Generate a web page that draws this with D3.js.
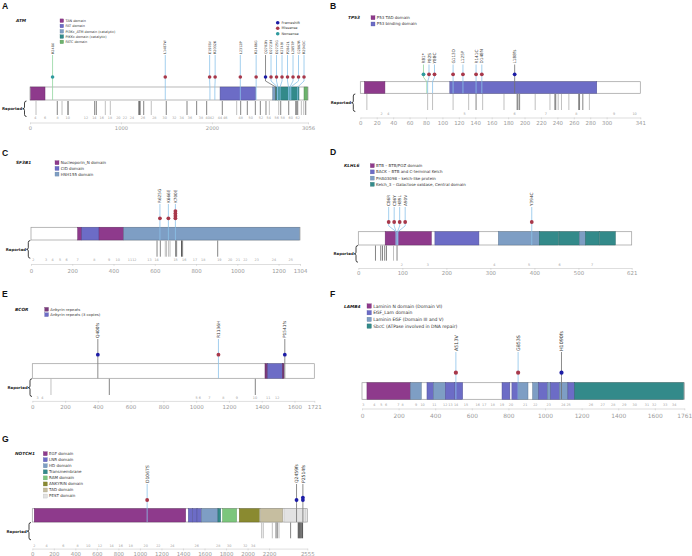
<!DOCTYPE html>
<html><head><meta charset="utf-8">
<script src="https://cdn.jsdelivr.net/npm/d3@7"></script>
<style>body{margin:0;background:#fff}svg{display:block}</style>
</head><body><svg id="c" width="692" height="556"></svg>
<script>
// ================= DATA =================
// ---- A: ATM ----
const atmLength = 3056;
const atmDomainNames = ["TAN domain","FAT domain","PI3Kc_ATM domain (catalytic)","PIKKc domain (catalytic)","FATC domain"];
const atmDomainStart = [8, 2089, 2668, 2697, 3012];
const atmDomainEnd   = [165, 2481, 2697, 2957, 3050];
const atmDomainType  = [0, 1, 2, 3, 4];
const atmMutLabels = ["R248X","L1487W","E1978V","R2032K","L2312P","R2486G","Q2702fs","D2721N","D2725G","K2749I","P2842L","L2857P","G2867R","R2943C"];
const atmMutPos    = [248,1487,1978,2032,2312,2486,2702,2721,2725,2749,2842,2857,2867,2943];
const atmMutType   = ["nonsense","missense","missense","missense","missense","missense","frameshift","missense","missense","missense","missense","missense","missense","missense"];
const atmMutCount  = [1,1,1,1,1,1,1,1,1,1,1,1,1,1];
const atmReportedPos = [66,300,352,418,711,729,828,883,1198,1209,1250,1333,1498,1726,1832,1942,2114,2272,2316,2389,2477,2532,2594,2631,2734,2756,2844,2921,2932,2943,2983,3009,3031];
const atmReportedCount = [1,2,1,3,2,2,1,1,3,3,2,1,2,2,2,2,2,1,2,2,2,2,2,1,1,2,2,2,2,2,1,1,2];
const atmExonNum = [4,6,8,10,12,14,16,18,20,22,24,26,28,30,32,34,36,38,40,42,44,46,48,50,52,54,56,58,60,62];
const atmExonPos = [59,165,304,414,616,707,788,879,971,1044,1121,1242,1367,1480,1587,1667,1759,1880,1953,2001,2089,2147,2316,2426,2539,2624,2712,2778,2866,2943];
const atmTicks = [0,1000,2000,3056];

// ---- B: TP53 ----
const tp53Length = 341;
const tp53DomainNames = ["P53 TAD domain","P53 binding domain"];
const tp53DomainStart = [5, 109];
const tp53DomainEnd   = [30, 288];
const tp53DomainType  = [0, 1];
const tp53MutLabels = ["R81*","P82S","Y88C","G113D","L125P","R141C","D148N","L188fs"];
const tp53MutPos    = [81,82,88,113,125,141,148,188];
const tp53MutType   = ["nonsense","missense","missense","missense","missense","missense","missense","frameshift"];
const tp53MutCount  = [1,1,1,1,1,1,1,1];
const tp53ReportedPos = [8,82,88,113,132,141,149,175,191,192,194,213,231,237,238,241,245,254,266,267,271,279];
const tp53ReportedCount = [1,1,1,1,1,2,1,1,2,2,2,1,1,2,2,1,1,1,2,2,2,1];
const tp53ExonNum = [2,4,5,6,7,8,9,10];
const tp53ExonPos = [26,34,127,188,226,263,309,334];
const tp53Ticks = [0,20,40,60,80,100,120,140,160,180,200,220,240,260,280,300,341];

// ---- C: SF3B1 ----
const sf3b1Length = 1304;
const sf3b1DomainNames = ["Nucleoporin_N domain","CID domain","HSH155 domain"];
const sf3b1DomainStart = [226, 246, 330, 449];
const sf3b1DomainEnd   = [246, 330, 449, 1301];
const sf3b1DomainType  = [0, 1, 0, 2];
const sf3b1MutLabels = ["R625G","K666E","K700E"];
const sf3b1MutPos    = [625,666,700];
const sf3b1MutType   = ["missense","missense","missense"];
const sf3b1MutCount  = [1,1,4];
const sf3b1ReportedPos = [611,627,651,657,667,674,701,706,730,735,905];
const sf3b1ReportedCount = [2,2,1,1,1,1,2,2,3,2,2];
const sf3b1ExonNum = [2,3,4,5,6,7,8,9,10,11,12,13,14,15,16,17,18,19,20,21,22,23,24,25];
const sf3b1ExonPos = [11,73,105,141,173,226,307,378,420,480,501,574,609,701,743,795,835,913,965,1003,1039,1094,1178,1259];
const sf3b1Ticks = [0,200,400,600,800,1000,1200,1304];

// ---- D: KLHL6 ----
const klhl6Length = 621;
const klhl6DomainNames = ["BTB \u2013 BTB/POZ domain","BACK \u2013 BTB and C-terminal Kelch","PHA03098 \u2013 kelch-like protein","Kelch_3 \u2013 Galactose oxidase, Central domain"];
const klhl6DomainStart = [61, 174, 318, 411, 456, 502, 516, 548];
const klhl6DomainEnd   = [166, 274, 411, 455, 502, 516, 547, 584];
const klhl6DomainType  = [0, 1, 2, 3, 3, 2, 3, 3];
const klhl6MutLabels = ["C86R","C86Y","H89L","A90V","Y394C"];
const klhl6MutPos    = [86,86,89,90,394];
const klhl6MutType   = ["missense","missense","missense","missense","missense"];
const klhl6MutCount  = [1,1,1,1,1];
const klhl6ReportedPos = [39,51,55,60,64,80,88];
const klhl6ReportedCount = [2,2,2,2,2,1,2];
const klhl6ExonNum = [2,3,4,5,6,7];
const klhl6ExonPos = [99,158,309,388,457,531];
const klhl6Ticks = [0,100,200,300,400,500,621];

// ---- E: BCOR ----
const bcorLength = 1721;
const bcorDomainNames = ["Ankyrin repeats","Ankyrin repeats (3 copies)"];
const bcorDomainStart = [1420, 1436, 1526];
const bcorDomainEnd   = [1436, 1526, 1536];
const bcorDomainType  = [0, 1, 0];
const bcorMutLabels = ["Q400fs","R1136H","P1541fs"];
const bcorMutPos    = [400,1136,1541];
const bcorMutType   = ["frameshift","missense","frameshift"];
const bcorMutCount  = [1,1,1];
const bcorReportedPos = [114,470,1361];
const bcorReportedCount = [1,2,2];
const bcorExonNum = [3,4,5,6,7,8,9,10,11,12];
const bcorExonPos = [33,61,1003,1023,1080,1166,1249,1359,1440,1495];
const bcorTicks = [0,200,400,600,800,1000,1200,1400,1600,1721];

// ---- F: LAMB4 ----
const lamb4Length = 1761;
const lamb4DomainNames = ["Laminin N domain (Domain VI)","EGF_Lam domain","Laminin EGF (Domain III and V)","SbcC (ATPase involved in DNA repair)"];
const lamb4DomainStart = [27, 264, 355, 390, 455, 505, 765, 819, 856, 932, 965, 1012, 1031, 1078, 1125, 1162];
const lamb4DomainEnd   = [264, 324, 390, 455, 505, 550, 808, 856, 907, 965, 1012, 1031, 1078, 1125, 1162, 1757];
const lamb4DomainType  = [0, 2, 1, 2, 1, 1, 1, 1, 2, 2, 1, 2, 1, 2, 1, 3];
const lamb4MutLabels = ["A513V","G853S","H1090fs"];
const lamb4MutPos    = [513,853,1090];
const lamb4MutType   = ["missense","missense","frameshift"];
const lamb4MutCount  = [1,1,1];
const lamb4ReportedPos = [];
const lamb4ReportedCount = [];
const lamb4ExonNum = [3,4,5,6,7,8,9,10,11,12,13,14,15,16,17,18,19,20,21,22,23,24,25,26,27,28,29,30,31,32,33,34];
const lamb4ExonPos = [7,67,106,131,198,222,295,331,395,455,483,514,568,632,668,714,765,814,892,947,1020,1100,1129,1251,1315,1373,1433,1490,1557,1597,1657,1706];
const lamb4Ticks = [0,200,400,600,800,1000,1200,1400,1600,1761];

// ---- G: NOTCH1 ----
const notch1Length = 2555;
const notch1DomainNames = ["EGF domain","LNR domain","HD domain","Transmembrane","RAM domain","ANKYRIN domain","TAD domain","PEST domain"];
const notch1DomainStart = [18, 1449, 1490, 1531, 1573, 1725, 1768, 1923, 2121, 2338];
const notch1DomainEnd   = [1425, 1489, 1530, 1570, 1725, 1750, 1898, 2109, 2326, 2543];
const notch1DomainType  = [0, 1, 1, 1, 2, 3, 4, 5, 6, 7];
const notch1MutLabels = ["D1067S","Q2459fs","P2514fs"];
const notch1MutPos    = [1067,2455,2514];
const notch1MutType   = ["missense","frameshift","frameshift"];
const notch1MutCount  = [1,1,2];
const notch1ReportedPos = [2131,2146,2230,2264,2276,2292,2400,2471,2480,2489,2499,2511];
const notch1ReportedCount = [1,1,1,2,2,1,2,3,3,3,3,3];
const notch1ExonNum = [2,4,6,8,10,12,14,16,18,20,22,24,26,28,30,32,34];
const notch1ExonPos = [19,133,288,421,520,629,737,821,914,1053,1171,1301,1527,1728,1830,1979,2053];
const notch1Ticks = [0,200,400,600,800,1000,1200,1400,1600,1800,2000,2200,2555];

const mutTypeNames = ["Frameshift","Missense","Nonsense"];

// ================= STYLE / LAYOUT =================
const mutColor = {frameshift:"#1c1ca6", missense:"#a8384a", nonsense:"#2f9a9e"};
const stemColor = {frameshift:"#707070", missense:"#8cc3ea", nonsense:"#93d6a0"};
const C_PURPLE="#8e3a8c", C_BLUE="#6c6cc6", C_STEEL="#7e9ec4", C_TEAL="#338a8a";
const repShade = d3.scaleLinear().domain([1,2,3]).range(["#b0b0b0","#666","#222"]);

const panels = [
 {letter:"A", lx:2, ly:9, gene:"ATM", gx:16, gy:21.5, legX:60, legY:20.7, legStep:5.3, legFont:3.4, sq:3.6,
  colors:[C_PURPLE,C_BLUE,C_STEEL,C_TEAL,"#6db36d"],
  x0:30, x1:308, labelY:54, circleY:77, barTop:87, barBot:100, repTop:101, repBot:115, braceX:24.5,
  exonY:119.3, axisY:122.5, tickY:129.5, labFont:3.4, r:1.8, tickFont:5.2,
  d:{len:atmLength,names:atmDomainNames,ds:atmDomainStart,de:atmDomainEnd,dt:atmDomainType,ml:atmMutLabels,mp:atmMutPos,mt:atmMutType,mc:atmMutCount,rp:atmReportedPos,rc:atmReportedCount,en:atmExonNum,ep:atmExonPos,ticks:atmTicks}},
 {letter:"B", lx:330, ly:9, gene:"TP53", gx:348, gy:19.2, legX:371, legY:17.7, legStep:6.3, legFont:4, sq:4,
  colors:[C_PURPLE,C_BLUE],
  x0:360.3, x1:640.3, labelY:63.5, circleY:74.3, barTop:81.7, barBot:93.3, repTop:94, repBot:110, braceX:353.3,
  exonY:115.3, axisY:117.5, tickY:125, labFont:4.2, r:1.9, tickFont:5.4,
  d:{len:tp53Length,names:tp53DomainNames,ds:tp53DomainStart,de:tp53DomainEnd,dt:tp53DomainType,ml:tp53MutLabels,mp:tp53MutPos,mt:tp53MutType,mc:tp53MutCount,rp:tp53ReportedPos,rc:tp53ReportedCount,en:tp53ExonNum,ep:tp53ExonPos,ticks:tp53Ticks}},
 {letter:"C", lx:2, ly:156, gene:"SF3B1", gx:16, gy:164.2, legX:55, legY:162.7, legStep:5.7, legFont:4, sq:4,
  colors:[C_PURPLE,C_BLUE,C_STEEL],
  x0:31, x1:300, labelY:203, circleY:218.3, barTop:227.3, barBot:240, repTop:240.5, repBot:256.7, braceX:28.3,
  exonY:260.7, axisY:264, tickY:273, labFont:4.2, r:1.9, tickFont:5.4,
  d:{len:sf3b1Length,names:sf3b1DomainNames,ds:sf3b1DomainStart,de:sf3b1DomainEnd,dt:sf3b1DomainType,ml:sf3b1MutLabels,mp:sf3b1MutPos,mt:sf3b1MutType,mc:sf3b1MutCount,rp:sf3b1ReportedPos,rc:sf3b1ReportedCount,en:sf3b1ExonNum,ep:sf3b1ExonPos,ticks:sf3b1Ticks}},
 {letter:"D", lx:330, ly:155, gene:"KLHL6", gx:344, gy:167.2, legX:370.3, legY:165.7, legStep:6.2, legFont:4, sq:4,
  colors:[C_PURPLE,C_BLUE,C_STEEL,C_TEAL],
  x0:358.3, x1:631.7, labelY:206, circleY:222, barTop:231.7, barBot:245, repTop:245.5, repBot:260.7, braceX:356,
  exonY:265.5, axisY:268, tickY:274.8, labFont:4.2, r:1.9, tickFont:5.4,
  d:{len:klhl6Length,names:klhl6DomainNames,ds:klhl6DomainStart,de:klhl6DomainEnd,dt:klhl6DomainType,ml:klhl6MutLabels,mp:klhl6MutPos,mt:klhl6MutType,mc:klhl6MutCount,rp:klhl6ReportedPos,rc:klhl6ReportedCount,en:klhl6ExonNum,ep:klhl6ExonPos,ticks:klhl6Ticks}},
 {letter:"E", lx:2, ly:297, gene:"BCOR", gx:15, gy:310.8, legX:44.7, legY:309.3, legStep:5.4, legFont:3.8, sq:3.8,
  colors:["#7a3a7c",C_BLUE],
  x0:32.3, x1:314.3, labelY:338, circleY:354.7, barTop:363.7, barBot:378.3, repTop:378.8, repBot:395, braceX:30,
  exonY:398.7, axisY:400.9, tickY:409.2, labFont:4.3, r:1.9, tickFont:5.5,
  d:{len:bcorLength,names:bcorDomainNames,ds:bcorDomainStart,de:bcorDomainEnd,dt:bcorDomainType,ml:bcorMutLabels,mp:bcorMutPos,mt:bcorMutType,mc:bcorMutCount,rp:bcorReportedPos,rc:bcorReportedCount,en:bcorExonNum,ep:bcorExonPos,ticks:bcorTicks}},
 {letter:"F", lx:330, ly:297, gene:"LAMB4", gx:344, gy:307.6, legX:367, legY:306, legStep:6.7, legFont:4.5, sq:4.4,
  colors:[C_PURPLE,C_BLUE,C_STEEL,C_TEAL],
  x0:362, x1:684.3, labelY:351, circleY:372.7, barTop:382.7, barBot:399.3, repTop:null, repBot:null, braceX:null,
  exonY:405.6, axisY:408.5, tickY:417.6, labFont:4.8, r:2.1, tickFont:5.9,
  d:{len:lamb4Length,names:lamb4DomainNames,ds:lamb4DomainStart,de:lamb4DomainEnd,dt:lamb4DomainType,ml:lamb4MutLabels,mp:lamb4MutPos,mt:lamb4MutType,mc:lamb4MutCount,rp:lamb4ReportedPos,rc:lamb4ReportedCount,en:lamb4ExonNum,ep:lamb4ExonPos,ticks:lamb4Ticks}},
 {letter:"G", lx:2, ly:442, gene:"NOTCH1", gx:15, gy:455.2, legX:43.3, legY:453.7, legStep:6.05, legFont:4, sq:4,
  colors:[C_PURPLE,C_BLUE,C_STEEL,C_TEAL,"#7cc67c","#8a8a30","#c6bea0","#e2e2e2"],
  x0:32.3, x1:307.3, labelY:483, circleY:500, barTop:508.7, barBot:522, repTop:522.5, repBot:538.3, braceX:29,
  exonY:546.8, axisY:548.6, tickY:556.3, labFont:4.5, r:1.9, tickFont:5.4,
  d:{len:notch1Length,names:notch1DomainNames,ds:notch1DomainStart,de:notch1DomainEnd,dt:notch1DomainType,ml:notch1MutLabels,mp:notch1MutPos,mt:notch1MutType,mc:notch1MutCount,rp:notch1ReportedPos,rc:notch1ReportedCount,en:notch1ExonNum,ep:notch1ExonPos,ticks:notch1Ticks}}
];

const FONT = "'DejaVu Sans', Verdana, sans-serif";
const svg = d3.select("#c");
svg.append("rect").attr("width",692).attr("height",556).attr("fill","#fff");

function spread(xs, gap){
  const out = xs.slice();
  for(let it=0; it<500; it++){
    let moved=false;
    for(let i=1;i<out.length;i++){
      const dd = out[i]-out[i-1];
      if(dd < gap-1e-6){ const s=(gap-dd)/2; out[i-1]-=s; out[i]+=s; moved=true; }
    }
    if(!moved) break;
  }
  return out;
}

function drawPanel(p){
  const d = p.d;
  const x = d3.scaleLinear().domain([0,d.len]).range([p.x0,p.x1]);
  const g = svg.append("g");

  // panel letter
  g.append("text").attr("x",p.lx).attr("y",p.ly).text(p.letter)
    .attr("font-family","'Liberation Sans', Arial, sans-serif").attr("font-weight","bold").attr("font-size",8.6).attr("fill","#111");
  // gene name
  g.append("text").attr("x",p.gx).attr("y",p.gy).text(p.gene)
    .attr("font-family",FONT).attr("font-style","italic").attr("font-weight","bold").attr("font-size",4.3).attr("fill","#222");

  // domain legend
  d.names.forEach((n,i)=>{
    const cy = p.legY + i*p.legStep;
    g.append("rect").attr("x",p.legX).attr("y",cy-p.sq/2).attr("width",p.sq).attr("height",p.sq)
      .attr("fill",p.colors[i]).attr("stroke",d3.color(p.colors[i]).darker(0.6)).attr("stroke-width",0.3);
    g.append("text").attr("x",p.legX+p.sq+1.8).attr("y",cy+p.legFont*0.36).text(n)
      .attr("font-family",FONT).attr("font-size",p.legFont).attr("fill","#333");
  });

  // protein bar
  g.append("rect").attr("x",x(0)).attr("y",p.barTop).attr("width",x(d.len)-x(0)).attr("height",p.barBot-p.barTop)
    .attr("fill","#fff").attr("stroke","#9a9a9a").attr("stroke-width",0.7);
  // domains
  d.ds.forEach((s,i)=>{
    const c = p.colors[d.dt[i]];
    g.append("rect").attr("x",x(s)).attr("y",p.barTop).attr("width",x(d.de[i])-x(s)).attr("height",p.barBot-p.barTop)
      .attr("fill",c).attr("stroke",d3.color(c).darker(0.9)).attr("stroke-width",0.45);
  });

  // reported lines
  if(p.repTop!==null){
    d.rp.forEach((r,i)=>{
      g.append("line").attr("x1",x(r)).attr("x2",x(r)).attr("y1",p.repTop).attr("y2",p.repBot)
        .attr("stroke",repShade(d.rc[i])).attr("stroke-width",0.8);
    });
    const bx=p.braceX, t=p.repTop, b=p.repBot+1.5, m=(t+b)/2;
    g.append("path").attr("d",`M${bx+2},${t} Q${bx},${t} ${bx},${t+2} L${bx},${m-1.6} Q${bx},${m} ${bx-1.8},${m} Q${bx},${m} ${bx},${m+1.6} L${bx},${b-2} Q${bx},${b} ${bx+2},${b}`)
      .attr("fill","none").attr("stroke","#111").attr("stroke-width",0.8);
    g.append("text").attr("x",bx-2.2).attr("y",m+1.4).attr("text-anchor","end").text("Reported")
      .attr("font-family",FONT).attr("font-weight","bold").attr("font-size",3.9).attr("fill","#222");
  }

  // exon labels
  d.en.forEach((n,i)=>{
    g.append("text").attr("x",x(d.ep[i])).attr("y",p.exonY).attr("text-anchor","middle").text(n)
      .attr("font-family",FONT).attr("font-size",3.4).attr("fill","#a0a0a0");
  });

  // axis
  const ax = g.append("g").attr("transform",`translate(0,${p.axisY})`)
    .call(d3.axisBottom(x).tickValues(d.ticks).tickFormat(d3.format("d")).tickSizeInner(1.8).tickSizeOuter(0).tickPadding(1));
  ax.select(".domain").attr("stroke","#c8c8c8").attr("stroke-width",0.6);
  ax.selectAll(".tick line").attr("stroke","#c8c8c8").attr("stroke-width",0.6);
  ax.selectAll(".tick text").attr("font-family",FONT).attr("font-size",p.tickFont).attr("fill","#9a9a9a")
    .attr("dy",null).attr("y",p.tickY-p.axisY);

  // lollipops
  const base = d.mp.map(v=>x(v));
  const cx = spread(base, 5.5);
  const bendY = p.circleY + (p.barTop-p.circleY)*0.4;
  d.mp.forEach((pos,i)=>{
    const t = d.mt[i];
    const topC = p.circleY - (d.mc[i]-1)*2.4;
    g.append("path").attr("d",`M${cx[i]},${p.labelY+1} L${cx[i]},${topC} M${cx[i]},${p.circleY} L${cx[i]},${bendY} L${base[i]},${p.barTop} L${base[i]},${p.barBot}`)
      .attr("fill","none").attr("stroke",stemColor[t]).attr("stroke-width",0.8);
  });
  d.mp.forEach((pos,i)=>{
    const t = d.mt[i];
    for(let k=0;k<d.mc[i];k++){
      g.append("circle").attr("cx",cx[i]).attr("cy",p.circleY-k*2.4).attr("r",p.r).attr("fill",mutColor[t]);
    }
    g.append("text").attr("transform",`translate(${cx[i]+p.labFont*0.36},${p.labelY}) rotate(-90)`)
      .text(d.ml[i]).attr("font-family",FONT).attr("font-size",p.labFont).attr("fill","#333");
  });
}

panels.forEach(drawPanel);

// mutation type legend (panel A)
const mtKeys = ["frameshift","missense","nonsense"];
mutTypeNames.forEach((n,i)=>{
  const cy = 22.7 + i*5.5;
  svg.append("circle").attr("cx",277.7).attr("cy",cy).attr("r",1.8).attr("fill",mutColor[mtKeys[i]]);
  svg.append("text").attr("x",281.5).attr("y",cy+1.25).text(n).attr("font-family",FONT).attr("font-size",3.5).attr("fill","#333");
});
</script>
</body></html>
